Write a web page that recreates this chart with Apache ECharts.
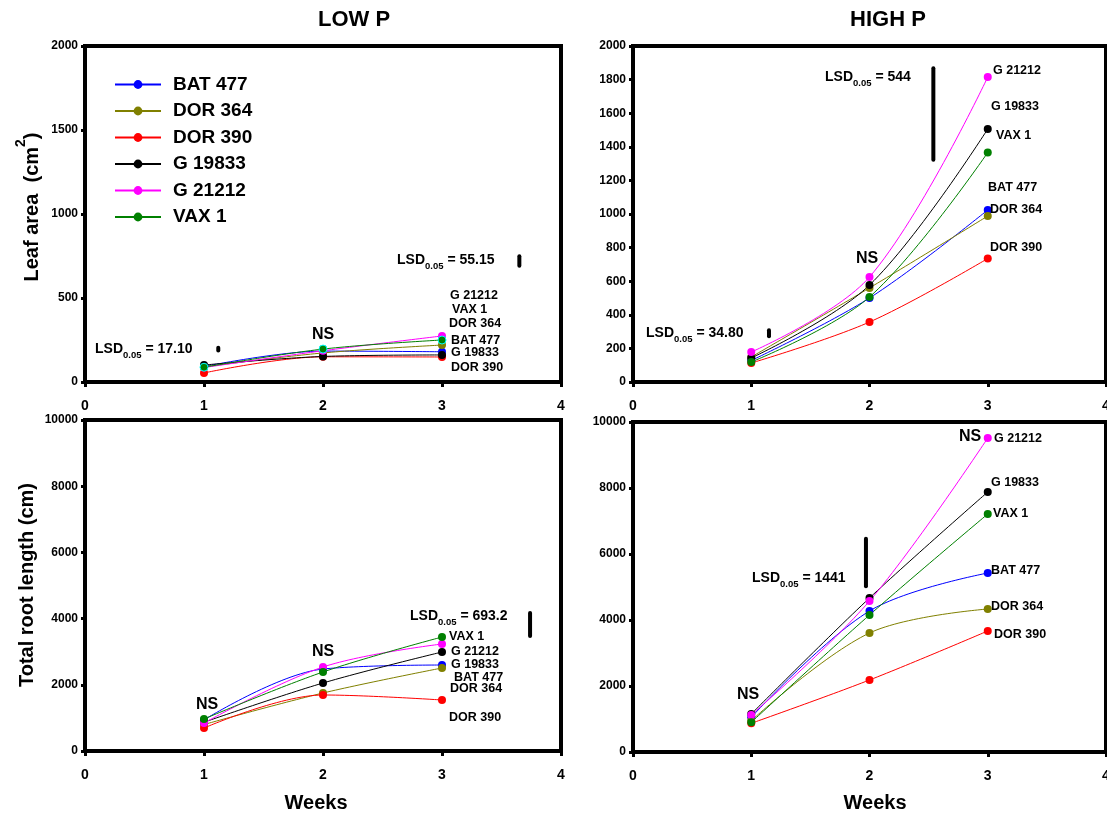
<!DOCTYPE html>
<html>
<head>
<meta charset="utf-8">
<style>
  html, body { margin: 0; padding: 0; background: #fff; }
  #chart { width: 1107px; height: 816px; }
</style>
<script src="https://cdn.jsdelivr.net/npm/echarts@6/dist/echarts.min.js"></script>
</head>
<body>
<div id="chart"></div>
<script>
const weeks = [1, 2, 3];
const cultivars = ['BAT 477', 'DOR 364', 'DOR 390', 'G 19833', 'G 21212', 'VAX 1'];
const colors = ['#0000ff', '#808000', '#ff0000', '#000000', '#ff00ff', '#008000'];

// one row per cultivar (same order as cultivars), one value per week
const leafLowP = [
  [92, 184, 180],
  [90, 173, 220],
  [54, 150, 149],
  [101, 152, 161],
  [86, 186, 274],
  [88, 196, 250]
];
const leafHighP = [
  [128, 500, 1024],
  [149, 560, 988],
  [113, 357, 735],
  [143, 577, 1506],
  [178, 625, 1815],
  [119, 506, 1366]
];
const rootLowP = [
  [940, 2477, 2598],
  [800, 1752, 2508],
  [695, 1692, 1541],
  [870, 2054, 2991],
  [846, 2538, 3233],
  [967, 2387, 3444]
];
const rootHighP = [
  [1050, 4273, 5424],
  [950, 3606, 4333],
  [870, 2182, 3667],
  [1150, 4667, 7879],
  [1121, 4576, 9515],
  [900, 4152, 7212]
];

// LSD bars: [week position, low, high]
const leafLowLsd = [[1.12, 187.5, 204.6], [3.65, 692, 748]];
const leafHighLsd = [[1.15, 272.6, 307.4], [2.54, 1323, 1867]];
const rootLowLsd = [[3.74, 3475, 4169]];
const rootHighLsd = [[1.97, 5022, 6463]];

const xTicks = [0, 1, 2, 3, 4];
const leafMax = 2000, rootMax = 10000;

const FONT = 'Arial, "Liberation Sans", Helvetica, sans-serif';

const panels = [
  { data: leafLowP, lsd: leafLowLsd, max: leafMax, step: 500, grid: { left: 85, top: 46, width: 476, height: 336 } },
  { data: leafHighP, lsd: leafHighLsd, max: leafMax, step: 200, grid: { left: 633, top: 46, width: 473, height: 336 } },
  { data: rootLowP, lsd: rootLowLsd, max: rootMax, step: 2000, grid: { left: 85, top: 420, width: 476, height: 331 } },
  { data: rootHighP, lsd: rootHighLsd, max: rootMax, step: 2000, grid: { left: 633, top: 422, width: 473, height: 330 } }
];

const grids = panels.map(p => Object.assign({
  show: true, borderColor: '#000', borderWidth: 4, backgroundColor: '#fff',
  containLabel: false, outerBoundsMode: 'none'
}, p.grid));

const xAxes = panels.map((p, i) => ({
  type: 'value', gridIndex: i, min: xTicks[0], max: xTicks[xTicks.length - 1], interval: 1,
  axisLine: { lineStyle: { color: '#000', width: 4 } },
  axisTick: { length: 5, lineStyle: { color: '#000', width: 3 } },
  axisLabel: { color: '#000', fontSize: 14, fontWeight: 'bold', fontFamily: FONT, margin: 17 },
  splitLine: { show: false }
}));

const yAxes = panels.map((p, i) => ({
  type: 'value', gridIndex: i, min: 0, max: p.max, interval: p.step,
  axisLine: { show: true, lineStyle: { color: '#000', width: 4 } },
  axisTick: { show: true, length: 4, lineStyle: { color: '#000', width: 3 } },
  axisLabel: {
    color: '#000', fontSize: 12, fontWeight: 'bold', fontFamily: FONT, margin: 7,
    formatter: v => String(v)
  },
  splitLine: { show: false }
}));

const series = [];
panels.forEach((p, pi) => {
  cultivars.forEach((name, ci) => {
    const item = { color: colors[ci] };
    if (pi === 0 && name === 'VAX 1') {
      item.borderColor = '#00ffff';
      item.borderWidth = 1;
    }
    series.push({
      type: 'line', name: name, xAxisIndex: pi, yAxisIndex: pi,
      data: weeks.map((w, j) => [w, p.data[ci][j]]),
      smooth: 0.35, symbol: 'circle', symbolSize: 8,
      lineStyle: { width: 1, color: colors[ci] },
      itemStyle: item
    });
  });
  p.lsd.forEach(b => {
    series.push({
      type: 'line', xAxisIndex: pi, yAxisIndex: pi, silent: true, z: 5,
      data: [[b[0], b[1]], [b[0], b[2]]],
      symbol: 'none', lineStyle: { width: 4, color: '#000', cap: 'round' }
    });
  });
});

function txt(x, y, text, size, align) {
  return {
    type: 'text', x: x, y: y, z: 100,
    style: {
      text: text, fill: '#000', fontSize: size, fontWeight: 'bold', fontFamily: FONT,
      align: align || 'left', verticalAlign: 'middle'
    }
  };
}

function lsdTxt(x, y, value) {
  return {
    type: 'text', x: x, y: y, z: 100,
    style: {
      text: '{m|LSD}{s|0.05}{m| = ' + value + '}',
      align: 'left', verticalAlign: 'middle',
      rich: {
        m: { fill: '#000', fontSize: 14, fontWeight: 'bold', fontFamily: FONT, lineHeight: 22, verticalAlign: 'middle' },
        s: { fill: '#000', fontSize: 9.5, fontWeight: 'bold', fontFamily: FONT, lineHeight: 12, verticalAlign: 'bottom' }
      }
    }
  };
}

const endLabels = [
  // top-left
  [450, 296, 'G 21212'], [452, 310, 'VAX 1'], [449, 324, 'DOR 364'],
  [451, 341, 'BAT 477'], [451, 353, 'G 19833'], [451, 368, 'DOR 390'],
  // top-right
  [993, 71, 'G 21212'], [991, 107, 'G 19833'], [996, 136, 'VAX 1'],
  [988, 188, 'BAT 477'], [990, 210, 'DOR 364'], [990, 248, 'DOR 390'],
  // bottom-left
  [449, 637, 'VAX 1'], [451, 652, 'G 21212'], [451, 665, 'G 19833'],
  [454, 678, 'BAT 477'], [450, 689, 'DOR 364'], [449, 718, 'DOR 390'],
  // bottom-right
  [994, 439, 'G 21212'], [991, 483, 'G 19833'], [993, 514, 'VAX 1'],
  [991, 571, 'BAT 477'], [991, 607, 'DOR 364'], [994, 635, 'DOR 390']
];

const nsLabels = [[323, 335], [867, 259], [207, 705], [323, 652], [748, 695], [970, 437]];

const graphic = [
  txt(354, 20, 'LOW P', 22, 'center'),
  txt(888, 20, 'HIGH P', 22, 'center'),
  txt(316, 803, 'Weeks', 20, 'center'),
  txt(875, 803, 'Weeks', 20, 'center'),
  {
    type: 'text', x: 28, y: 207, rotation: Math.PI / 2, z: 100,
    style: {
      text: '{m|Leaf area  (cm}{u|2}{m|)}', align: 'center', verticalAlign: 'middle',
      rich: {
        m: { fill: '#000', fontSize: 20, fontWeight: 'bold', fontFamily: FONT, lineHeight: 28, verticalAlign: 'bottom' },
        u: { fill: '#000', fontSize: 14, fontWeight: 'bold', fontFamily: FONT, lineHeight: 28, verticalAlign: 'top' }
      }
    }
  },
  {
    type: 'text', x: 27, y: 585, rotation: Math.PI / 2, z: 100,
    style: {
      text: 'Total root length (cm)', fill: '#000', fontSize: 20, fontWeight: 'bold', fontFamily: FONT,
      align: 'center', verticalAlign: 'middle'
    }
  },
  lsdTxt(95, 349, '17.10'),
  lsdTxt(397, 260, '55.15'),
  lsdTxt(646, 333, '34.80'),
  lsdTxt(825, 77, '544'),
  lsdTxt(410, 616, '693.2'),
  lsdTxt(752, 578, '1441')
];
endLabels.forEach(l => graphic.push(txt(l[0], l[1], l[2], 12.5)));
nsLabels.forEach(n => graphic.push(txt(n[0], n[1], 'NS', 16, 'center')));

const legendItems = cultivars.map(name => ({ name: name, itemStyle: { borderWidth: 0 } }));

const chart = echarts.init(document.getElementById('chart'));
chart.setOption({
  animation: false,
  backgroundColor: '#fff',
  grid: grids,
  xAxis: xAxes,
  yAxis: yAxes,
  legend: {
    data: legendItems, orient: 'vertical', left: 109, top: 70,
    itemWidth: 46, itemHeight: 11, itemGap: 7.5,
    textStyle: { color: '#000', fontSize: 19, fontWeight: 'bold', fontFamily: FONT, padding: [0, 0, 0, 7] },
    selectedMode: false
  },
  series: series,
  graphic: graphic
});
</script>
</body>
</html>
